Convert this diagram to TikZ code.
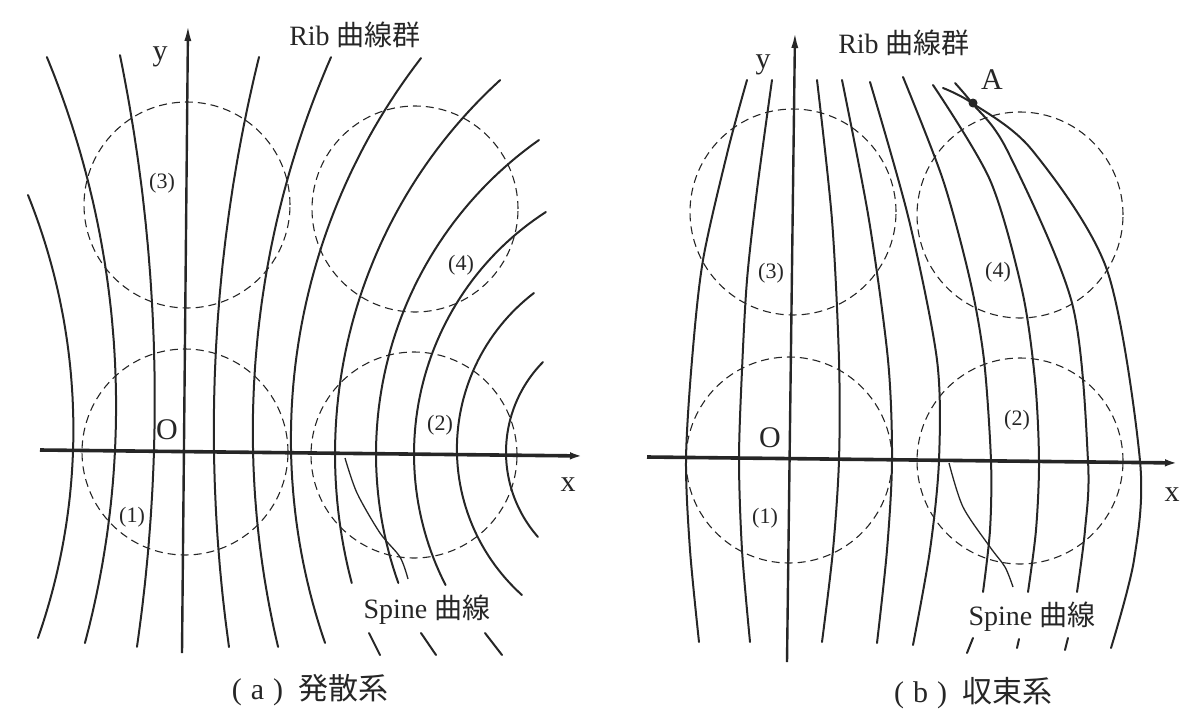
\documentclass[tikz,border=0pt]{standalone}
\usepackage{fontspec}
\setmainfont{Liberation Serif}
\newfontfamily\jp{Noto Sans CJK JP}
\usetikzlibrary{arrows.meta}
\definecolor{inkgray}{RGB}{38,38,38}

\begin{document}
\begin{tikzpicture}[x=1pt,y=-1pt,
    ribline/.style={inkgray,line width=2pt,line cap=round},
    spineline/.style={inkgray,line width=1.3pt},
    zone/.style={inkgray,line width=1.1pt,dash pattern=on 8pt off 5pt},
    axisline/.style={inkgray,line width=2.4pt,-{Latex[length=16pt,width=7pt]}},
    axislabel/.style={inkgray,font=\fontsize{30}{32}\selectfont},
    zonelabel/.style={inkgray,font=\fontsize{22}{24}\selectfont},
    curvelabel/.style={inkgray,font=\fontsize{28}{30}\selectfont},
    figcap/.style={inkgray,font=\fontsize{30}{32}\selectfont}]
  \useasboundingbox (0,0) rectangle (1182,712);

  % (a) divergent: rib curves are circle arcs (centre x/y, radius, angles)
  \foreach \c in {(187,205),(415,209),(185,452),(414,455)}
    \draw[zone] \c circle (103pt);
  \foreach \cx/\cy/\r/\a/\b in {-556.6/429.8/630.0/-21.88/19.30,
      -799.7/406.2/915.8/-22.41/14.99, -1571.3/399.8/1726.1/-11.52/8.23,
      1776.3/429.9/1562.5/193.81/172.01, 1187.4/431.3/934.6/203.6/166.66,
      914.9/439.4/624.0/217.67/160.96, 841/454/506/227.65/165.23,
      760/454/384/234.85/160.37, 702/454/288/237.17/152.94,
      653.4/449/196.5/232.56/132.0, 634.4/452.2/128.4/224.6/138.7}
    \draw[ribline] plot[domain=\a:\b,samples=60] ({\cx+\r*cos(\x)},{\cy+\r*sin(\x)});
  \draw[ribline] (369,633) -- (380,655);
  \draw[ribline] (421,633) -- (436,655);
  \draw[ribline] (485,633) -- (502,655);
  \draw[spineline] plot[smooth] coordinates {(345,458) (357,493) (380,533) (400,557) (408,579)};
  \draw[axisline] (182,653) -- (188,25);
  \draw[axisline,line width=3.6pt] (40,450) -- (586,456);
  \node[axislabel] (ya) at (160,57) {y};
  \node[axislabel] (xa) at (568,485) {x};
  \node[axislabel] (oa) at (167,430) {O};
  \node[curvelabel] (riba) at (355,35) {Rib {\jp 曲線群}};
  \node[curvelabel] (spinea) at (427,610) {Spine {\jp 曲線}};
  \node[zonelabel] (z1a) at (132,517) {(1)};
  \node[zonelabel] (z2a) at (440,425) {(2)};
  \node[zonelabel] (z3a) at (162,183) {(3)};
  \node[zonelabel] (z4a) at (461,265) {(4)};
  \node[figcap] (capa) at (310,690) {(\hspace{.3em}a\hspace{.3em})\hspace{.5em}{\jp 発散系}};

  % (b) convergent
  \foreach \c in {(793,212),(1020,215),(789,460),(1020,461)}
    \draw[zone] \c circle (103pt);
  \draw[ribline] plot[smooth] coordinates {(747,80) (728,150) (703,260) (692,360) (686,460) (690,550) (699,642)};
  \draw[ribline] plot[smooth] coordinates {(772,80) (757,190) (747,280) (742,370) (739,460) (742,550) (750,642)};
  \draw[ribline] plot[smooth] coordinates {(817,80) (832,220) (839,360) (839,460) (833,550) (822,642)};
  \draw[ribline] plot[smooth] coordinates {(842,80) (869,220) (888,360) (892,460) (887,550) (877,643)};
  \draw[ribline] plot[smooth] coordinates {(870,82) (909,220) (937,360) (939,460) (930,550) (913,645)};
  \draw[ribline] plot[smooth] coordinates {(903,77) (943,180) (970,280) (984,360) (991,461) (990,530) (983,592)};
  \draw[ribline] plot[smooth] coordinates {(933,85) (990,180) (1022,290) (1035,380) (1039,461) (1036,530) (1028,592)};
  \draw[ribline] plot[smooth] coordinates {(955,83) (972,103) (1007,150) (1072,303) (1088,461) (1085,530) (1077,592)};
  \draw[ribline] plot[smooth] coordinates {(943,88) (972,103) (1032,150) (1107,270) (1140,461) (1134,560) (1111,648)};
  \draw[ribline] (967,653) -- (973,638);
  \draw[ribline] (1017,648) -- (1019,639);
  \draw[ribline] (1065,650) -- (1068,638);
  \draw[spineline] plot[smooth] coordinates {(949,463) (963,507) (990,547) (1005,567) (1013,587)};
  \draw[axisline] (787,662) -- (795,32);
  \draw[axisline,line width=3.6pt] (647,457) -- (1181,463);
  \fill[inkgray] (973,103) circle (4.5pt);
  \node[axislabel] (yb) at (763,65) {y};
  \node[axislabel] (xb) at (1172,495) {x};
  \node[axislabel] (ob) at (770,438) {O};
  \node[axislabel] (ab) at (992,80) {A};
  \node[curvelabel] (ribb) at (904,43) {Rib {\jp 曲線群}};
  \node[curvelabel] (spineb) at (1032,617) {Spine {\jp 曲線}};
  \node[zonelabel] (z1b) at (765,518) {(1)};
  \node[zonelabel] (z2b) at (1017,420) {(2)};
  \node[zonelabel] (z3b) at (771,273) {(3)};
  \node[zonelabel] (z4b) at (998,272) {(4)};
  \node[figcap] (capb) at (973,693) {(\hspace{.3em}b\hspace{.3em})\hspace{.5em}{\jp 収束系}};
\end{tikzpicture}
\end{document}
